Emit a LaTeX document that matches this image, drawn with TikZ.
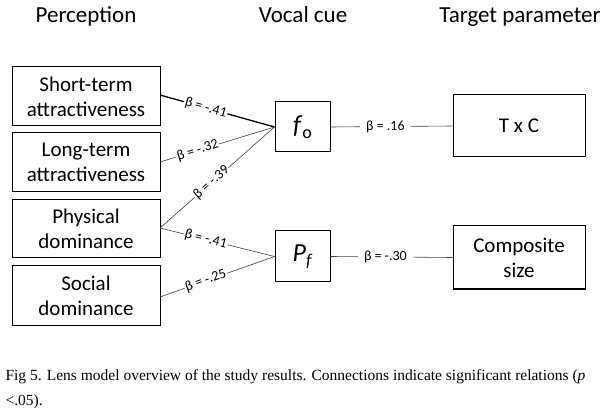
\documentclass[tikz,border=0pt]{standalone}
\usepackage{fontspec}
\setmainfont{Carlito}
\newfontfamily\capfont{Liberation Serif}
\begin{document}
\begin{tikzpicture}[x=1pt,y=-1pt,
 box/.style={draw,line width=1pt,align=center,font=\fontsize{21}{25}\selectfont,inner sep=0pt},
 hd/.style={font=\fontsize{23}{26}\selectfont,anchor=base},
 con/.style={draw=black!75,line width=0.6pt},
 lab/.style={fill=white,font=\fontsize{14}{16}\selectfont,inner sep=1pt,sloped}]
\useasboundingbox (0,0) rectangle (608,414);
\node[hd] (h1) at (86,23) {Perception};
\node[hd] (h2) at (303,23) {Vocal cue};
\node[hd] (h3) at (520,23) {Target parameter};
\node[box,minimum width=148,minimum height=59] (st) at (86,96.5) {Short-term\\attractiveness};
\node[box,minimum width=148,minimum height=59] (lt) at (86,162.5) {Long-term\\attractiveness};
\node[box,minimum width=148,minimum height=58] (pd) at (86,229) {Physical\\dominance};
\node[box,minimum width=148,minimum height=59] (sd) at (86,295.5) {Social\\dominance};
\node[box,minimum width=55,minimum height=50,font=\fontsize{26}{28}\selectfont] (fo) at (302.5,127) {\textit{f}\fontsize{18}{20}\selectfont\raisebox{-5pt}{o}};
\node[box,minimum width=55,minimum height=51,font=\fontsize{26}{28}\selectfont] (pf) at (302.5,256.5) {\textit{P}\fontsize{18}{20}\selectfont\raisebox{-5pt}{\textit{f}}};
\node[box,minimum width=132,minimum height=62] (tc) at (519,126) {T x C};
\node[box,minimum width=132,minimum height=63] (cs) at (519,257.5) {Composite\\size};
\draw[con,line width=1.3pt,black] (160,95) -- node[lab,pos=0.4]{β = -.41} (fo.west);
\draw[con] (160,162) -- node[lab,pos=0.33]{β = -.32} (fo.west);
\draw[con] (160,228) -- node[lab,pos=0.45]{β = -.39} (fo.west);
\draw[con] (160,228) -- node[lab,pos=0.4]{β = -.41} (pf.west);
\draw[con] (160,297) -- node[lab,pos=0.4]{β = -.25} (pf.west);
\draw[con] (fo.east) -- node[lab,pos=0.45,inner xsep=6pt]{β = .16} (tc.west);
\draw[con] (pf.east) -- node[lab,pos=0.45,inner xsep=6pt]{β = -.30} (cs.west);
\node[anchor=west,font=\capfont\fontsize{15.5}{18}\selectfont] (c1) at (2,377) {Fig 5. Lens model overview of the study results. Connections indicate significant relations (\textit{p}};
\node[anchor=west,font=\capfont\fontsize{15.5}{18}\selectfont] (c2) at (2,402) {<.05).};
\end{tikzpicture}
\end{document}
